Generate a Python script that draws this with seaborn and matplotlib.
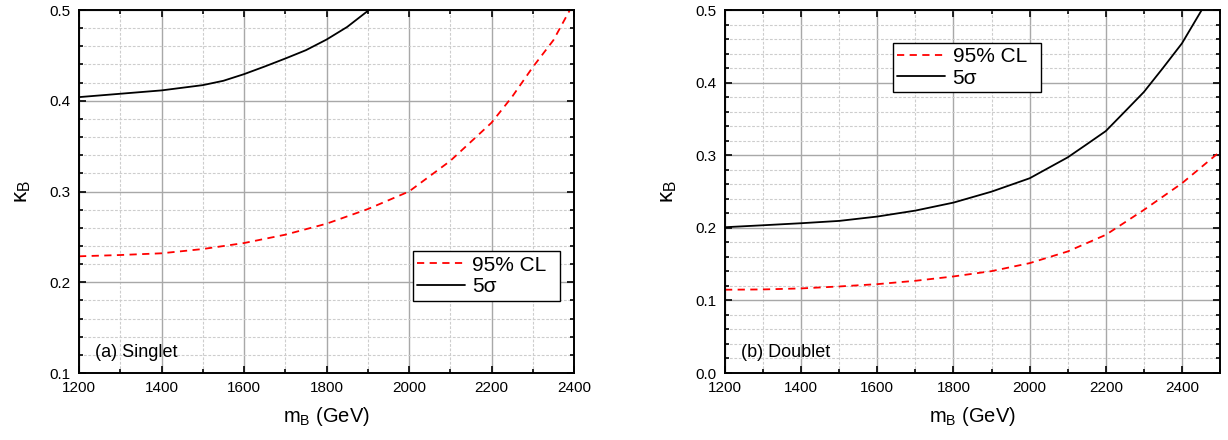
import numpy as np
import pandas as pd
import matplotlib
matplotlib.use("Agg")
import matplotlib.pyplot as plt
from matplotlib.ticker import MultipleLocator
from matplotlib.lines import Line2D
import seaborn as sns

# Singlet: sensitivity curves vs. vector-like B mass
singlet_mass_cl = [1200, 1300, 1400, 1500, 1600, 1700, 1800, 1900, 2000, 2100, 2200, 2250, 2300, 2350, 2390]
singlet_cl95 = [0.2286, 0.230, 0.2319, 0.2366, 0.2432, 0.2524, 0.2645, 0.2806, 0.300, 0.3337,
                0.3758, 0.4044, 0.437, 0.4667, 0.500]
singlet_mass_5s = [1200, 1300, 1400, 1500, 1550, 1600, 1650, 1700, 1750, 1800, 1850, 1903]
singlet_5sigma = [0.404, 0.4077, 0.4114, 0.4172, 0.422, 0.4293, 0.4377, 0.4465, 0.4557, 0.4674,
                  0.4813, 0.500]

# Doublet
doublet_mass_cl = [1200, 1300, 1400, 1500, 1600, 1700, 1800, 1900, 2000, 2100, 2200, 2300, 2400, 2500]
doublet_cl95 = [0.1147, 0.1151, 0.1165, 0.1192, 0.1224, 0.127, 0.133, 0.1403, 0.1513, 0.1674,
                0.1903, 0.2246, 0.2613, 0.305]
doublet_mass_5s = [1200, 1300, 1400, 1500, 1600, 1700, 1800, 1900, 2000, 2100, 2150, 2200, 2250,
                   2300, 2350, 2400, 2452]
doublet_5sigma = [0.2008, 0.2035, 0.2063, 0.2095, 0.2155, 0.2237, 0.2347, 0.2498, 0.2682, 0.297,
                  0.315, 0.3332, 0.360, 0.387, 0.420, 0.454, 0.500]

x_ticks = [1200, 1400, 1600, 1800, 2000, 2200, 2400]
legend_labels = ["95% CL", "5σ"]
panel_titles = ["(a) Singlet", "(b) Doublet"]

sns.set_theme(style="white")
plt.rcParams["font.family"] = ["Liberation Sans", "DejaVu Sans"]
plt.rcParams["mathtext.fontset"] = "custom"
plt.rcParams["mathtext.rm"] = "Liberation Sans"
plt.rcParams["text.color"] = "black"
plt.rcParams["axes.labelcolor"] = "black"
plt.rcParams["xtick.color"] = "black"
plt.rcParams["ytick.color"] = "black"
plt.rcParams["xtick.labelcolor"] = "black"
plt.rcParams["ytick.labelcolor"] = "black"

fig = plt.figure(figsize=(12.28, 4.40), dpi=100)
ax_a = fig.add_axes([79 / 1228, 67 / 440, 495 / 1228, 363 / 440])
ax_b = fig.add_axes([725 / 1228, 67 / 440, 495 / 1228, 363 / 440])

red_dash = (0, (4, 3))

panels = [
    (ax_a, singlet_mass_cl, singlet_cl95, singlet_mass_5s, singlet_5sigma,
     (1200, 2400), (0.1, 0.5), [0.1, 0.2, 0.3, 0.4, 0.5],
     (0.674, 0.336, 0.297, 0.0)),
    (ax_b, doublet_mass_cl, doublet_cl95, doublet_mass_5s, doublet_5sigma,
     (1200, 2500), (0.0, 0.5), [0.0, 0.1, 0.2, 0.3, 0.4, 0.5],
     (0.339, 0.910, 0.299, 0.0)),
]

for i, (ax, mc, vc, ms, vs, xlim, ylim, yt, lbox) in enumerate(panels):
    df_cl = pd.DataFrame({"m": mc, "k": vc})
    df_5s = pd.DataFrame({"m": ms, "k": vs})
    sns.lineplot(data=df_cl, x="m", y="k", ax=ax, color="#ff0000",
                 linestyle=red_dash, linewidth=1.3, estimator=None, sort=True)
    sns.lineplot(data=df_5s, x="m", y="k", ax=ax, color="black",
                 linewidth=1.3, estimator=None, sort=True)

    ax.set_xlim(*xlim)
    ax.set_ylim(*ylim)
    ax.set_xticks(x_ticks)
    ax.set_yticks(yt)
    ax.set_yticklabels([f"{v:.1f}" for v in yt])
    ax.xaxis.set_minor_locator(MultipleLocator(100))
    ax.yaxis.set_minor_locator(MultipleLocator(0.02))

    ax.grid(which="major", color="#a8a8a8", linestyle="-", linewidth=1.0)
    ax.grid(which="minor", color="#cdcdcd", linestyle=(0, (2.5, 1.5)), linewidth=0.8)
    ax.set_axisbelow(True)

    for sp in ax.spines.values():
        sp.set_visible(True)
        sp.set_color("black")
        sp.set_linewidth(1.4)

    ax.tick_params(which="both", direction="in", top=True, right=True,
                   bottom=True, left=True, color="black", width=1.2)
    ax.tick_params(which="major", length=5, labelsize=11, pad=6)
    ax.tick_params(which="minor", length=3)

    ax.set_xlabel("m$_\\mathregular{B}$ (GeV)", fontsize=14.5, labelpad=7)
    ax.set_ylabel("κ$_\\mathregular{B}$", fontsize=16, labelpad=12)

    ax.text(0.032, 0.043, panel_titles[i], transform=ax.transAxes,
            fontsize=13, ha="left", va="baseline")

    handles = [Line2D([], [], color="#ff0000", linestyle=red_dash, linewidth=1.3),
               Line2D([], [], color="black", linewidth=1.3)]
    leg = ax.legend(handles, legend_labels, loc="upper left",
                    bbox_to_anchor=lbox, mode="expand", fontsize=15,
                    frameon=True, fancybox=False, framealpha=1,
                    edgecolor="black", handlelength=2.3, handletextpad=0.35,
                    borderaxespad=0, borderpad=0.22, labelspacing=0.12)
    leg.get_frame().set_linewidth(1.0)

fig.savefig("out.png", dpi=100)
